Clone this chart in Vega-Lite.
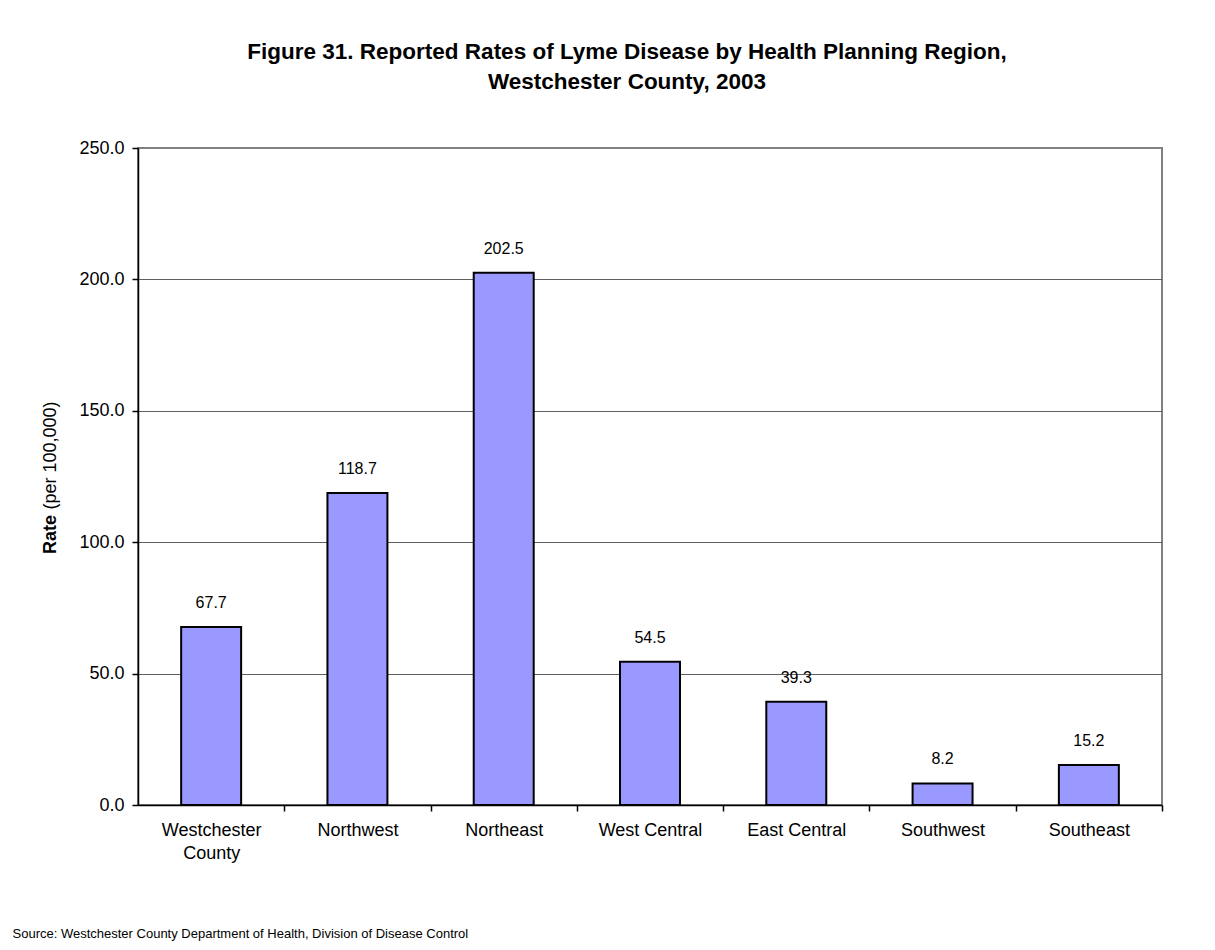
{
  "$schema": "https://vega.github.io/schema/vega-lite/v6.json",
  "width": 1024,
  "height": 657,
  "autosize": {"type": "none"},
  "padding": {"left": 138, "top": 148, "right": 53, "bottom": 145},
  "background": "white",
  "config": {
    "font": "Liberation Sans",
    "view": {"stroke": "#808080", "strokeWidth": 2}
  },
  "title": {
    "text": ["Figure 31. Reported Rates of Lyme Disease by Health Planning Region,", "Westchester County, 2003"],
    "fontSize": 22.5,
    "fontWeight": "bold",
    "color": "black",
    "font": "Liberation Sans",
    "anchor": "middle",
    "frame": "group",
    "baseline": "bottom",
    "lineHeight": 30,
    "offset": 23,
    "dx": -23
  },
  "data": {
    "values": [
      {"region": "Westchester County", "rate": 67.7},
      {"region": "Northwest", "rate": 118.7},
      {"region": "Northeast", "rate": 202.5},
      {"region": "West Central", "rate": 54.5},
      {"region": "East Central", "rate": 39.3},
      {"region": "Southwest", "rate": 8.2},
      {"region": "Southeast", "rate": 15.2}
    ]
  },
  "layer": [
    {
      "mark": {"type": "bar", "fill": "#9999FF", "stroke": "black", "strokeWidth": 2},
      "encoding": {
        "x": {
          "field": "region",
          "type": "nominal",
          "sort": null,
          "scale": {"paddingInner": 0.59, "paddingOuter": 0.295},
          "axis": {
            "labelAngle": 0,
            "labelFontSize": 18,
            "labelColor": "black",
            "labelPadding": 10,
            "labelLineHeight": 23,
            "labelExpr": "datum.label == 'Westchester County' ? ['Westchester', 'County'] : datum.label",
            "tickOffset": 73.14,
            "labelOffset": -73.14,
            "tickSize": 6,
            "tickColor": "black",
            "tickWidth": 1.5,
            "domainColor": "black",
            "domainWidth": 1.5,
            "title": "Source: Westchester County Department of Health, Division of Disease Control",
            "titleFontSize": 13,
            "titleFontWeight": "normal",
            "titleColor": "black",
            "titleAnchor": "start",
            "titleAlign": "left",
            "titleBaseline": "alphabetic",
            "titleX": -126,
            "titleY": 132
          }
        },
        "y": {
          "field": "rate",
          "type": "quantitative",
          "scale": {"domain": [0, 250], "nice": false},
          "axis": {
            "values": [0, 50, 100, 150, 200, 250],
            "format": ".1f",
            "labelFontSize": 18,
            "labelColor": "black",
            "labelPadding": 8,
            "tickSize": 6,
            "tickColor": "black",
            "tickWidth": 1.5,
            "domainColor": "black",
            "domainWidth": 1.5,
            "grid": true,
            "gridColor": "#606060",
            "gridWidth": 1,
            "gridOpacity": {"condition": {"test": "datum.value === 250 || datum.value === 0", "value": 0}, "value": 1},
            "title": "Rate",
            "titleFontSize": 18,
            "titleFontWeight": "bold",
            "titleColor": "black",
            "titleAngle": -90,
            "titleAlign": "center",
            "titleBaseline": "middle",
            "titleX": -88,
            "titleY": 386
          }
        }
      }
    },
    {
      "mark": {"type": "text", "dy": -19, "baseline": "alphabetic", "fontSize": 16, "color": "black", "font": "Liberation Sans"},
      "encoding": {
        "x": {"field": "region", "type": "nominal", "sort": null},
        "y": {
          "field": "rate",
          "type": "quantitative",
          "axis": {
            "orient": "left",
            "labels": false,
            "ticks": false,
            "domain": false,
            "grid": false,
            "title": "(per 100,000)",
            "titleFontSize": 18,
            "titleFontWeight": "normal",
            "titleColor": "black",
            "titleAngle": -90,
            "titleAlign": "center",
            "titleBaseline": "middle",
            "titleX": -88,
            "titleY": 307
          }
        },
        "text": {"field": "rate", "type": "quantitative", "format": ".1f"}
      }
    }
  ],
  "resolve": {"axis": {"y": "independent"}}
}
